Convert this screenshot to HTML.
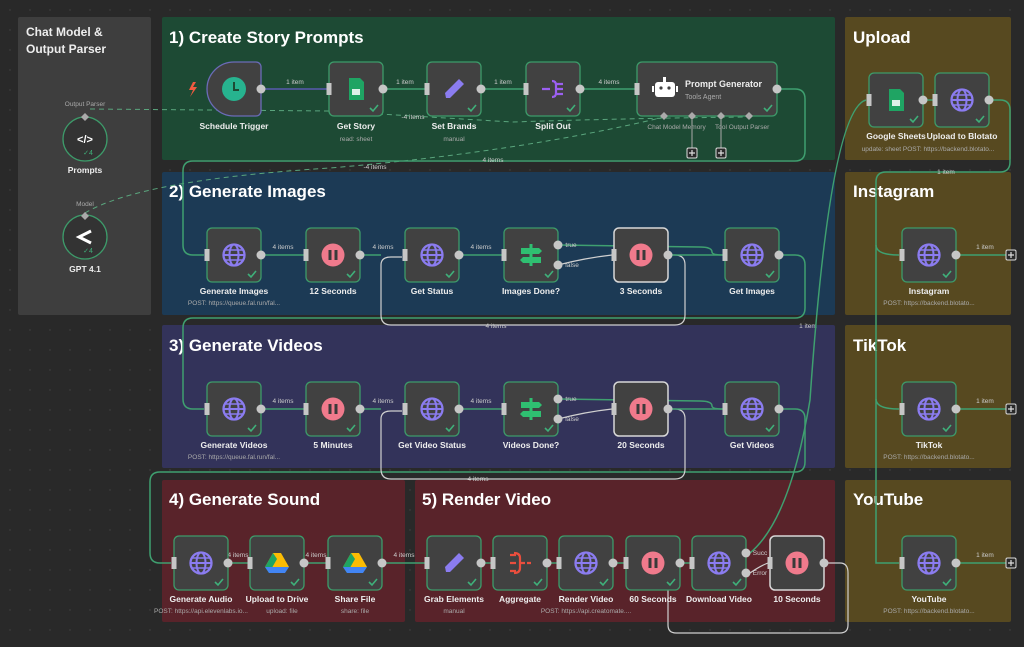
<!DOCTYPE html>
<html><head><meta charset="utf-8"><style>
html,body{margin:0;padding:0;background:#2a2a2a;width:1024px;height:647px;overflow:hidden}
svg{display:block}
text{font-family:"Liberation Sans",sans-serif}
.t{font-size:17px;font-weight:bold;fill:#fff}
.l{font-size:8.5px;font-weight:bold;fill:#eee;text-anchor:middle}
.s{font-size:6.5px;fill:#aaa;text-anchor:middle}
.e{font-size:6.5px;fill:#ccc;text-anchor:middle}
.n{fill:#414141;stroke:#3d9b6a;stroke-width:1.3}
.w{fill:#414141;stroke:#d8d8d8;stroke-width:1.5}
.g{stroke:#3fa070;stroke-width:1.5;fill:none}
.wl{stroke:#d0d0d0;stroke-width:1.2;fill:none}
.o{fill:#c6c6c6}
</style></head><body>
<svg width="1024" height="647" viewBox="0 0 1024 647">
<defs>
<pattern id="dots" width="20" height="20" patternUnits="userSpaceOnUse"><circle cx="10" cy="10" r="0.7" fill="#444"/></pattern>
<g id="globe"><circle r="10.5" fill="none" stroke="#8b7cf0" stroke-width="2.3"/><ellipse rx="4.5" ry="10.5" fill="none" stroke="#8b7cf0" stroke-width="2"/><line x1="-10.5" x2="10.5" stroke="#8b7cf0" stroke-width="2"/><line x1="-9" x2="9" y1="-5" y2="-5" stroke="#8b7cf0" stroke-width="1.6"/><line x1="-9" x2="9" y1="5" y2="5" stroke="#8b7cf0" stroke-width="1.6"/></g>
<g id="pause"><circle r="11.5" fill="#f07a8c"/><rect x="-4.5" y="-5" width="3" height="10" fill="#3a3a3a"/><rect x="1.5" y="-5" width="3" height="10" fill="#3a3a3a"/></g>
<g id="chk"><polyline points="-4,0 -1,3 4,-3" fill="none" stroke="#3fb07a" stroke-width="1.6"/></g>
<g id="pen"><path d="M-8,9 L-9,4 L5,-10 L10,-5 L-4,9 Z" fill="#8b7cf0"/></g>
<g id="sheet"><path d="M-7,-11 H4 L8,-7 V11 H-7 Z" fill="#1fa463"/><rect x="-4" y="0" width="8" height="6" fill="#fff" opacity=".85"/></g>
<g id="drive"><path d="M-4,-10 H4 L12,4 H-12 Z" fill="#fbbc04"/><path d="M-4,-10 L-12,4 L-8,10 L0,-4Z" fill="#1fa463"/><path d="M12,4 L8,10 H-8 L-12,4Z" fill="#4285f4"/><path d="M4,-10 L12,4 L8,10 L0,-4Z" fill="#ea4335" opacity=".0"/></g>
<g id="sign"><rect x="-1.5" y="-11" width="3" height="22" fill="#2fbf71"/><path d="M-10,-7 H8 L11,-4 L8,-1 H-10Z" fill="#2fbf71"/><path d="M10,2 H-8 L-11,5 L-8,8 H10Z" fill="#2fbf71"/></g>
<g id="in"><rect x="-2.5" y="-6" width="5" height="12" fill="#c6c6c6"/></g>
<g id="plus"><rect x="-5" y="-5" width="10" height="10" rx="1.5" fill="#2a2a2a" stroke="#ddd" stroke-width="1"/><path d="M-3,0H3M0,-3V3" stroke="#ddd" stroke-width="1.2"/></g>
</defs>
<rect width="1024" height="647" fill="#292929"/>
<rect width="1024" height="647" fill="url(#dots)"/>

<!-- sticky panels -->
<rect x="18" y="17" width="133" height="298" fill="#3e3e3e" rx="2"/>
<rect x="162" y="17" width="673" height="143" fill="#1d4a34" rx="2"/>
<rect x="845" y="17" width="166" height="143" fill="#574920" rx="2"/>
<rect x="162" y="172" width="673" height="143" fill="#1c3a55" rx="2"/>
<rect x="845" y="172" width="166" height="143" fill="#574920" rx="2"/>
<rect x="162" y="325" width="673" height="143" fill="#33335a" rx="2"/>
<rect x="845" y="325" width="166" height="143" fill="#574920" rx="2"/>
<rect x="162" y="480" width="243" height="142" fill="#59232a" rx="2"/>
<rect x="415" y="480" width="420" height="142" fill="#59232a" rx="2"/>
<rect x="845" y="480" width="166" height="142" fill="#574920" rx="2"/>

<text x="26" y="36" style="font-size:12px;font-weight:bold;fill:#eee">Chat Model &amp;</text>
<text x="26" y="53" style="font-size:12px;font-weight:bold;fill:#eee">Output Parser</text>
<text x="169" y="43" class="t">1) Create Story Prompts</text>
<text x="169" y="197" class="t">2) Generate Images</text>
<text x="169" y="351" class="t">3) Generate Videos</text>
<text x="169" y="505" class="t">4) Generate Sound</text>
<text x="422" y="505" class="t">5) Render Video</text>
<text x="853" y="43" class="t">Upload</text>
<text x="853" y="197" class="t">Instagram</text>
<text x="853" y="351" class="t">TikTok</text>
<text x="853" y="505" class="t">YouTube</text>

<!-- dashed connectors -->
<path d="M90,109 L330,111 L512,122 Q640,118 749,117" stroke="#5aa57d" stroke-width="1" stroke-dasharray="5,4" fill="none"/>
<path d="M85,213 Q140,180 330,168 Q520,152 664,117" stroke="#5aa57d" stroke-width="1" stroke-dasharray="5,4" fill="none"/>
<text x="413" y="119" class="e">-4 items</text>
<text x="375" y="169" class="e">-4 items</text>

<!-- long green connectors -->
<path class="g" d="M777,89 H795 Q805,89 805,99 V151 Q805,161 795,161 H193 Q183,161 183,171 V245 Q183,255 193,255 H204"/>
<text x="493" y="162" class="e">4 items</text>
<path class="g" d="M779,255 H795 Q805,255 805,265 V308 Q805,318 795,318 H193 Q183,318 183,328 V399 Q183,409 193,409 H204"/>
<text x="808" y="328" class="e">1 item</text>
<path class="g" d="M779,409 H795 Q805,409 805,419 V462 Q805,472 795,472 H160 Q150,472 150,482 V553 Q150,563 160,563 H171"/>
<text x="478" y="481" class="e">4 items</text>
<path class="g" d="M750,553 Q790,520 810,400 Q830,110 866,100"/>
<path class="g" d="M989,100 H1000 Q1010,100 1010,110 V162 Q1010,172 1000,172 H886 Q876,172 876,182 V563 Q876,563 899,563"/>
<path class="g" d="M876,245 Q876,255 899,255 M876,399 Q876,409 899,409"/>
<text x="946" y="174" class="e">1 item</text>

<!-- loop connectors -->
<path class="wl" d="M668,255 H675 Q685,255 685,265 V315 Q685,325 675,325 H391 Q381,325 381,315 V265 Q381,257 391,257 H402"/>
<text x="496" y="328" class="e">4 items</text>
<path class="wl" d="M668,409 H675 Q685,409 685,419 V469 Q685,479 675,479 H391 Q381,479 381,469 V419 Q381,411 391,411 H402"/>
<path class="wl" d="M824,563 H840 Q848,563 848,573 V625 Q848,633 840,633 H676 Q668,633 668,625 V590"/>

<!-- row1 -->
<path d="M193,82 L189,90 L193,90 L190,97 L197,87 L193,87 L196,82Z" fill="#f05a40"/>
<path d="M234,62 H256 a5 5 0 0 1 5 5 V111 a5 5 0 0 1 -5 5 H234 a27 27 0 0 1 0 -54Z" fill="#414141" stroke="#6b6bb8" stroke-width="1.3"/>
<circle cx="234" cy="89" r="12" fill="#27b38f"/><path d="M234,82 V90 H239" stroke="#1d4a34" stroke-width="2" fill="none"/>
<line x1="261" y1="89" x2="327" y2="89" stroke="#5a5ab0" stroke-width="1.5"/>
<text x="295" y="84" class="e">1 item</text>
<rect x="329" y="62" width="54" height="54" rx="5" class="n"/><use href="#sheet" x="356" y="89"/><use href="#chk" x="374" y="108"/>
<line class="g" x1="383" y1="89" x2="425" y2="89"/><text x="405" y="84" class="e">1 item</text>
<rect x="427" y="62" width="54" height="54" rx="5" class="n"/><use href="#pen" x="454" y="89"/><use href="#chk" x="472" y="108"/>
<line class="g" x1="481" y1="89" x2="524" y2="89"/><text x="503" y="84" class="e">1 item</text>
<rect x="526" y="62" width="54" height="54" rx="5" class="n"/><path d="M542,89 H550 M552,81 Q556,81 556,85 V93 Q556,97 552,97 M556,84 H563 M556,89 H563 M556,94 H563" stroke="#9b5ff0" stroke-width="2.2" fill="none"/><use href="#chk" x="571" y="108"/>
<line class="g" x1="580" y1="89" x2="635" y2="89"/><text x="609" y="84" class="e">4 items</text>
<rect x="637" y="62" width="140" height="54" rx="5" class="n"/>
<rect x="655" y="82" width="20" height="15" rx="3" fill="#fff"/><rect x="663" y="77" width="3" height="5" fill="#fff"/><circle cx="661" cy="88" r="1.6" fill="#414141"/><circle cx="669" cy="88" r="1.6" fill="#414141"/><rect x="652" y="86" width="2" height="6" fill="#fff"/><rect x="676" y="86" width="2" height="6" fill="#fff"/>
<text x="685" y="87" style="font-size:9px;font-weight:bold;fill:#eee">Prompt Generator</text>
<text x="685" y="99" style="font-size:7px;fill:#aaa">Tools Agent</text>
<use href="#chk" x="768" y="108"/>
<g fill="#aaa"><path d="M664,112 l4,4 -4,4 -4,-4z"/><path d="M692,112 l4,4 -4,4 -4,-4z"/><path d="M721,112 l4,4 -4,4 -4,-4z"/><path d="M749,112 l4,4 -4,4 -4,-4z"/></g>
<line x1="692" y1="120" x2="692" y2="148" stroke="#aaa"/><line x1="721" y1="120" x2="721" y2="148" stroke="#aaa"/>
<use href="#plus" x="692" y="153"/><use href="#plus" x="721" y="153"/>
<text x="664" y="129" class="s">Chat Model</text><text x="694" y="129" class="s">Memory</text><text x="721" y="129" class="s">Tool</text><text x="749" y="129" class="s">Output Parser</text>
<g class="o"><circle cx="261" cy="89" r="4.5"/><circle cx="383" cy="89" r="4.5"/><circle cx="481" cy="89" r="4.5"/><circle cx="580" cy="89" r="4.5"/><circle cx="777" cy="89" r="4.5"/></g>
<use href="#in" x="329" y="89"/><use href="#in" x="427" y="89"/><use href="#in" x="526" y="89"/><use href="#in" x="637" y="89"/>
<text x="234" y="129" class="l">Schedule Trigger</text>
<text x="356" y="129" class="l">Get Story</text><text x="356" y="141" class="s">read: sheet</text>
<text x="454" y="129" class="l">Set Brands</text><text x="454" y="141" class="s">manual</text>
<text x="553" y="129" class="l">Split Out</text>

<!-- chat model panel -->
<text x="85" y="106" class="s">Output Parser</text>
<circle cx="85" cy="139" r="22" fill="#333" stroke="#3d9b6a" stroke-width="1.3"/>
<text x="85" y="143" style="font-size:11px;font-weight:bold;fill:#fff;text-anchor:middle">&lt;/&gt;</text>
<text x="88" y="155" style="font-size:7px;fill:#3fb07a;text-anchor:middle">✓4</text>
<path d="M85,113 l4,4 -4,4 -4,-4z" fill="#aaa"/>
<text x="85" y="173" class="l">Prompts</text>
<text x="85" y="206" class="s">Model</text>
<circle cx="85" cy="237" r="22" fill="#333" stroke="#3d9b6a" stroke-width="1.3"/>
<path d="M91,231 L79,237 L91,243" stroke="#fff" stroke-width="3" fill="none"/>
<text x="88" y="253" style="font-size:7px;fill:#3fb07a;text-anchor:middle">✓4</text>
<path d="M85,212 l4,4 -4,4 -4,-4z" fill="#aaa"/>
<text x="85" y="272" class="l">GPT 4.1</text>

<!-- row2 -->
<line class="g" x1="261" y1="255" x2="304" y2="255"/><text x="283" y="249" class="e">4 items</text>
<line class="g" x1="360" y1="255" x2="381" y2="255"/><text x="383" y="249" class="e">4 items</text>
<line class="g" x1="459" y1="255" x2="502" y2="255"/><text x="481" y="249" class="e">4 items</text>
<path class="g" d="M558,245 L700,247 Q712,247 712,252 Q712,255 723,255"/>
<path class="wl" d="M558,265 Q585,258 612,255"/>
<line class="g" x1="668" y1="255" x2="723" y2="255"/>
<text x="571" y="247" class="e">true</text><text x="572" y="267" class="e">false</text>
<rect x="207" y="228" width="54" height="54" rx="5" class="n"/><use href="#globe" x="234" y="255"/><use href="#chk" x="252" y="274"/>
<rect x="306" y="228" width="54" height="54" rx="5" class="n"/><use href="#pause" x="333" y="255"/><use href="#chk" x="351" y="274"/>
<rect x="405" y="228" width="54" height="54" rx="5" class="n"/><use href="#globe" x="432" y="255"/><use href="#chk" x="450" y="274"/>
<rect x="504" y="228" width="54" height="54" rx="5" class="n"/><use href="#sign" x="531" y="255"/><use href="#chk" x="549" y="274"/>
<rect x="614" y="228" width="54" height="54" rx="5" class="w"/><use href="#pause" x="641" y="255"/>
<rect x="725" y="228" width="54" height="54" rx="5" class="n"/><use href="#globe" x="752" y="255"/><use href="#chk" x="770" y="274"/>
<g class="o"><circle cx="261" cy="255" r="4.5"/><circle cx="360" cy="255" r="4.5"/><circle cx="459" cy="255" r="4.5"/><circle cx="558" cy="245" r="4.5"/><circle cx="558" cy="265" r="4.5"/><circle cx="668" cy="255" r="4.5"/><circle cx="779" cy="255" r="4.5"/></g>
<use href="#in" x="207" y="255"/><use href="#in" x="306" y="255"/><use href="#in" x="405" y="255"/><use href="#in" x="504" y="255"/><use href="#in" x="614" y="255"/><use href="#in" x="725" y="255"/>
<text x="234" y="294" class="l">Generate Images</text><text x="234" y="305" class="s">POST: https://queue.fal.run/fal...</text>
<text x="333" y="294" class="l">12 Seconds</text><text x="432" y="294" class="l">Get Status</text><text x="531" y="294" class="l">Images Done?</text><text x="641" y="294" class="l">3 Seconds</text><text x="752" y="294" class="l">Get Images</text>

<!-- row3 -->
<line class="g" x1="261" y1="409" x2="304" y2="409"/><text x="283" y="403" class="e">4 items</text>
<line class="g" x1="360" y1="409" x2="381" y2="409"/><text x="383" y="403" class="e">4 items</text>
<line class="g" x1="459" y1="409" x2="502" y2="409"/><text x="481" y="403" class="e">4 items</text>
<path class="g" d="M558,399 L700,401 Q712,401 712,406 Q712,409 723,409"/>
<path class="wl" d="M558,419 Q585,412 612,409"/>
<line class="g" x1="668" y1="409" x2="723" y2="409"/>
<text x="571" y="401" class="e">true</text><text x="572" y="421" class="e">false</text>
<rect x="207" y="382" width="54" height="54" rx="5" class="n"/><use href="#globe" x="234" y="409"/><use href="#chk" x="252" y="428"/>
<rect x="306" y="382" width="54" height="54" rx="5" class="n"/><use href="#pause" x="333" y="409"/><use href="#chk" x="351" y="428"/>
<rect x="405" y="382" width="54" height="54" rx="5" class="n"/><use href="#globe" x="432" y="409"/><use href="#chk" x="450" y="428"/>
<rect x="504" y="382" width="54" height="54" rx="5" class="n"/><use href="#sign" x="531" y="409"/><use href="#chk" x="549" y="428"/>
<rect x="614" y="382" width="54" height="54" rx="5" class="w"/><use href="#pause" x="641" y="409"/>
<rect x="725" y="382" width="54" height="54" rx="5" class="n"/><use href="#globe" x="752" y="409"/><use href="#chk" x="770" y="428"/>
<g class="o"><circle cx="261" cy="409" r="4.5"/><circle cx="360" cy="409" r="4.5"/><circle cx="459" cy="409" r="4.5"/><circle cx="558" cy="399" r="4.5"/><circle cx="558" cy="419" r="4.5"/><circle cx="668" cy="409" r="4.5"/><circle cx="779" cy="409" r="4.5"/></g>
<use href="#in" x="207" y="409"/><use href="#in" x="306" y="409"/><use href="#in" x="405" y="409"/><use href="#in" x="504" y="409"/><use href="#in" x="614" y="409"/><use href="#in" x="725" y="409"/>
<text x="234" y="448" class="l">Generate Videos</text><text x="234" y="459" class="s">POST: https://queue.fal.run/fal...</text>
<text x="333" y="448" class="l">5 Minutes</text><text x="432" y="448" class="l">Get Video Status</text><text x="531" y="448" class="l">Videos Done?</text><text x="641" y="448" class="l">20 Seconds</text><text x="752" y="448" class="l">Get Videos</text>

<!-- row4 -->
<g class="g"><line x1="228" y1="563" x2="248" y2="563"/><line x1="304" y1="563" x2="326" y2="563"/><line x1="382" y1="563" x2="425" y2="563"/><line x1="481" y1="563" x2="491" y2="563"/><line x1="547" y1="563" x2="557" y2="563"/><line x1="613" y1="563" x2="624" y2="563"/><line x1="680" y1="563" x2="690" y2="563"/></g>
<path class="wl" d="M750,573 Q760,566 768,563"/>
<text x="238" y="557" class="e">4 items</text><text x="316" y="557" class="e">4 items</text><text x="404" y="557" class="e">4 items</text>
<text x="760" y="555" class="e">Succ</text><text x="760" y="575" class="e">Error</text>
<rect x="174" y="536" width="54" height="54" rx="5" class="n"/><use href="#globe" x="201" y="563"/><use href="#chk" x="219" y="582"/>
<rect x="250" y="536" width="54" height="54" rx="5" class="n"/><use href="#drive" x="277" y="563"/><use href="#chk" x="295" y="582"/>
<rect x="328" y="536" width="54" height="54" rx="5" class="n"/><use href="#drive" x="355" y="563"/><use href="#chk" x="373" y="582"/>
<rect x="427" y="536" width="54" height="54" rx="5" class="n"/><use href="#pen" x="454" y="563"/><use href="#chk" x="472" y="582"/>
<rect x="493" y="536" width="54" height="54" rx="5" class="n"/><path d="M510,555 H516 M510,563 H516 M510,571 H516 M514,553 Q520,553 520,558 V568 Q520,573 514,573 M521,563 H525 M527,563 H531" stroke="#ea4e3d" stroke-width="2.2" fill="none"/><use href="#chk" x="538" y="582"/>
<rect x="559" y="536" width="54" height="54" rx="5" class="n"/><use href="#globe" x="586" y="563"/><use href="#chk" x="604" y="582"/>
<rect x="626" y="536" width="54" height="54" rx="5" class="n"/><use href="#pause" x="653" y="563"/><use href="#chk" x="671" y="582"/>
<rect x="692" y="536" width="54" height="54" rx="5" class="n"/><use href="#globe" x="719" y="563"/><use href="#chk" x="737" y="582"/>
<rect x="770" y="536" width="54" height="54" rx="5" class="w"/><use href="#pause" x="797" y="563"/>
<g class="o"><circle cx="228" cy="563" r="4.5"/><circle cx="304" cy="563" r="4.5"/><circle cx="382" cy="563" r="4.5"/><circle cx="481" cy="563" r="4.5"/><circle cx="547" cy="563" r="4.5"/><circle cx="613" cy="563" r="4.5"/><circle cx="680" cy="563" r="4.5"/><circle cx="746" cy="553" r="4.5"/><circle cx="746" cy="573" r="4.5"/><circle cx="824" cy="563" r="4.5"/></g>
<use href="#in" x="174" y="563"/><use href="#in" x="250" y="563"/><use href="#in" x="328" y="563"/><use href="#in" x="427" y="563"/><use href="#in" x="493" y="563"/><use href="#in" x="559" y="563"/><use href="#in" x="626" y="563"/><use href="#in" x="692" y="563"/><use href="#in" x="770" y="563"/>
<text x="201" y="602" class="l">Generate Audio</text><text x="201" y="613" class="s">POST: https://api.elevenlabs.io...</text>
<text x="277" y="602" class="l">Upload to Drive</text><text x="282" y="613" class="s">upload: file</text>
<text x="355" y="602" class="l">Share File</text><text x="355" y="613" class="s">share: file</text>
<text x="454" y="602" class="l">Grab Elements</text><text x="454" y="613" class="s">manual</text>
<text x="520" y="602" class="l">Aggregate</text>
<text x="586" y="602" class="l">Render Video</text><text x="586" y="613" class="s">POST: https://api.creatomate....</text>
<text x="653" y="602" class="l">60 Seconds</text>
<text x="719" y="602" class="l">Download Video</text>
<text x="797" y="602" class="l">10 Seconds</text>

<!-- right column -->
<line class="g" x1="923" y1="100" x2="933" y2="100"/>
<rect x="869" y="73" width="54" height="54" rx="5" class="n"/><use href="#sheet" x="896" y="100"/><use href="#chk" x="914" y="119"/>
<rect x="935" y="73" width="54" height="54" rx="5" class="n"/><use href="#globe" x="962" y="100"/><use href="#chk" x="980" y="119"/>
<g class="o"><circle cx="923" cy="100" r="4.5"/><circle cx="989" cy="100" r="4.5"/></g>
<use href="#in" x="869" y="100"/><use href="#in" x="935" y="100"/>
<text x="896" y="139" class="l">Google Sheets</text><text x="962" y="139" class="l">Upload to Blotato</text>
<text x="928" y="151" class="s">update: sheet  POST: https://backend.blotato...</text>

<rect x="902" y="228" width="54" height="54" rx="5" class="n"/><use href="#globe" x="929" y="255"/><use href="#chk" x="947" y="274"/>
<rect x="902" y="382" width="54" height="54" rx="5" class="n"/><use href="#globe" x="929" y="409"/><use href="#chk" x="947" y="428"/>
<rect x="902" y="536" width="54" height="54" rx="5" class="n"/><use href="#globe" x="929" y="563"/><use href="#chk" x="947" y="582"/>
<g class="g"><line x1="956" y1="255" x2="1006" y2="255"/><line x1="956" y1="409" x2="1006" y2="409"/><line x1="956" y1="563" x2="1006" y2="563"/></g>
<g class="o"><circle cx="956" cy="255" r="4.5"/><circle cx="956" cy="409" r="4.5"/><circle cx="956" cy="563" r="4.5"/></g>
<use href="#in" x="902" y="255"/><use href="#in" x="902" y="409"/><use href="#in" x="902" y="563"/>
<use href="#plus" x="1011" y="255"/><use href="#plus" x="1011" y="409"/><use href="#plus" x="1011" y="563"/>
<text x="985" y="249" class="e">1 item</text><text x="985" y="403" class="e">1 item</text><text x="985" y="557" class="e">1 item</text>
<text x="929" y="294" class="l">Instagram</text><text x="929" y="305" class="s">POST: https://backend.blotato...</text>
<text x="929" y="448" class="l">TikTok</text><text x="929" y="459" class="s">POST: https://backend.blotato...</text>
<text x="929" y="602" class="l">YouTube</text><text x="929" y="613" class="s">POST: https://backend.blotato...</text>
</svg>
</body></html>
